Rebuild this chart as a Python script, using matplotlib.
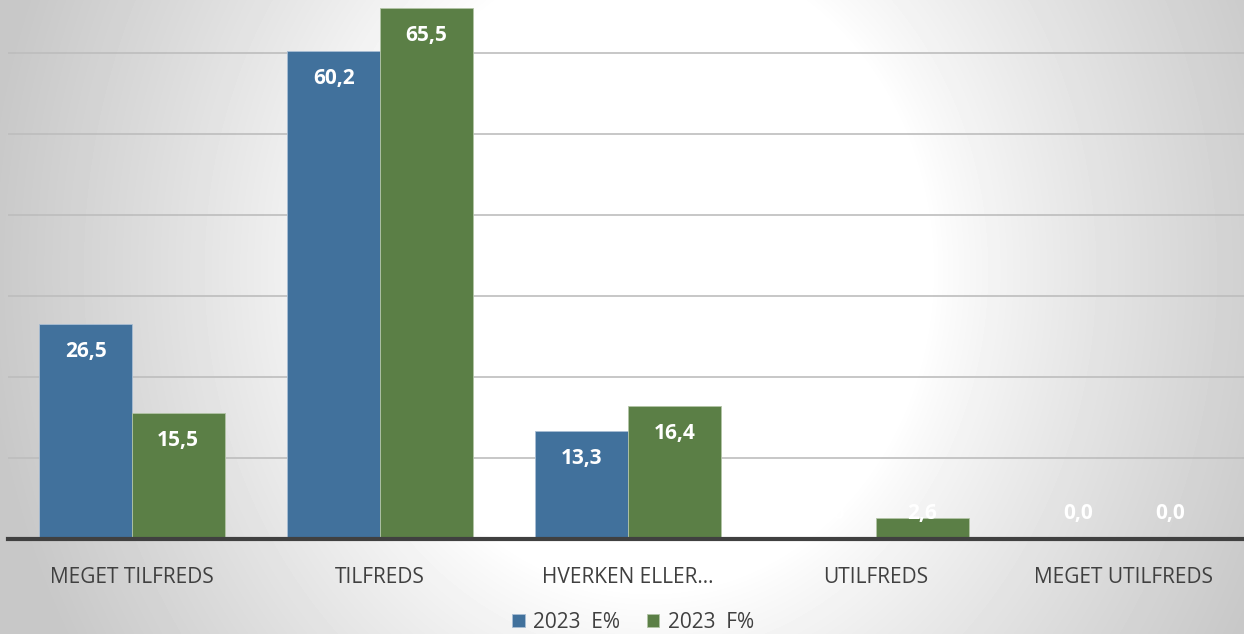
import numpy as np
import matplotlib.pyplot as plt

kategorier = ["MEGET TILFREDS", "TILFREDS", "HVERKEN ELLER…", "UTILFREDS", "MEGET UTILFREDS"]
serie_e = [26.5, 60.2, 13.3, 0.0, 0.0]
serie_f = [15.5, 65.5, 16.4, 2.6, 0.0]
serie_navne = ["2023  E%", "2023  F%"]

blaa = "#41719c"
groen = "#5b7f46"
tekst = "#404040"

plt.rcParams["font.family"] = ["Open Sans", "DejaVu Sans"]

fig = plt.figure(figsize=(12.44, 6.34), dpi=100)

# baggrund med radial gradient (hvid midte, grå kanter)
bg = fig.add_axes([0, 0, 1, 1], zorder=-10)
yy, xx = np.mgrid[0:634, 0:1244]
r = np.sqrt(((xx - 650) / 280) ** 2 + ((yy - 270) / 320) ** 2)
lys = (255 - 42 * np.clip(r - 1, 0, None) ** 0.85)
lys = np.clip(lys, 200, 255) / 255
bg.imshow(lys, cmap="gray", vmin=0, vmax=1, aspect="auto", extent=[0, 1, 0, 1])
bg.axis("off")

ax = fig.add_axes([8 / 1244, (634 - 539) / 634, 1240 / 1244, 539 / 634])
ax.patch.set_alpha(0)

x = np.arange(len(kategorier))
b = 0.373
ax.bar(x - b / 2, serie_e, b, color=blaa, edgecolor="#a9bed4", linewidth=0.6, label=serie_navne[0], zorder=3)
ax.bar(x + b / 2, serie_f, b, color=groen, edgecolor="#b2c4a6", linewidth=0.6, label=serie_navne[1], zorder=3)

ax.set_xlim(-0.5, len(kategorier) - 0.5)
ax.set_ylim(0, 66.5)
ax.set_yticks(np.arange(10, 61, 10))
ax.yaxis.grid(True, color="#bdbdbd", linewidth=1.2, zorder=0)
ax.tick_params(axis="y", left=False, labelleft=False)
ax.tick_params(axis="x", bottom=False, labelsize=15, labelcolor=tekst, pad=17)
ax.set_xticks(x)
ax.set_xticklabels(kategorier)
for s in ["top", "right", "left"]:
    ax.spines[s].set_visible(False)
ax.spines["bottom"].set_color("#404040")
ax.spines["bottom"].set_linewidth(3)
ax.spines["bottom"].set_zorder(4)

for serie, dx in [(serie_e, -b / 2), (serie_f, b / 2)]:
    for i, v in enumerate(serie):
        yl = max(v - 3.4, 3.2)
        ax.text(i + dx, yl, f"{v:.1f}".replace(".", ","), ha="center", va="center",
                color="white", fontsize=15, fontweight="bold", zorder=5)

fig.legend(loc="center", bbox_to_anchor=(633 / 1244, 1 - 622 / 634), ncol=2, frameon=False,
           fontsize=15, labelcolor=tekst, handlelength=0.6, handleheight=0.6,
           handletextpad=0.4, columnspacing=1.3)

fig.savefig("out.png", dpi=100)
